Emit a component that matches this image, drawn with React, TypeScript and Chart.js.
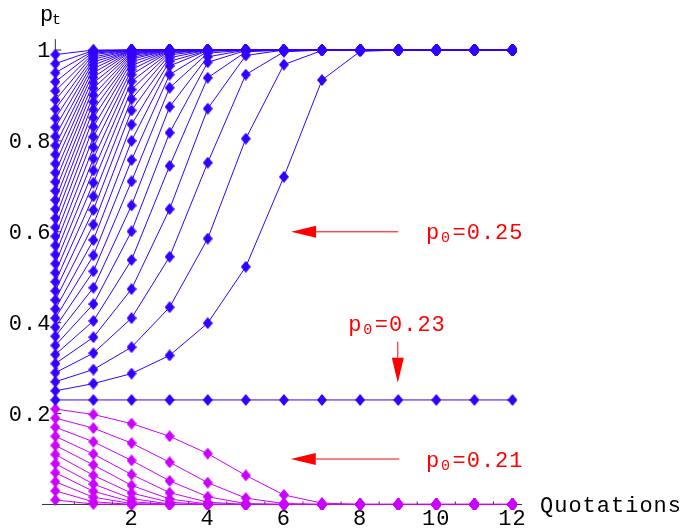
import React, { useEffect, useRef } from "react";
import { Chart, registerables } from "chart.js";

Chart.register(...registerables);

// Time steps (quotations)
const steps = [0, 1, 2, 3, 4, 5, 6, 7, 8, 9, 10, 11, 12];

// Paths starting above the threshold: they climb to 1
const risingPaths: number[][] = [
  [0.25, 0.266, 0.288, 0.328, 0.399, 0.523, 0.721, 0.934, 0.997, 1, 1, 1, 1],
  [0.27, 0.297, 0.346, 0.434, 0.585, 0.805, 0.968, 0.999, 1, 1, 1, 1, 1],
  [0.29, 0.333, 0.41, 0.545, 0.752, 0.946, 0.996, 1, 1, 1, 1, 1, 1],
  [0.31, 0.368, 0.474, 0.65, 0.871, 0.988, 1, 1, 1, 1, 1, 1, 1],
  [0.33, 0.404, 0.538, 0.745, 0.939, 0.996, 1, 1, 1, 1, 1, 1, 1],
  [0.35, 0.441, 0.601, 0.818, 0.973, 0.999, 1, 1, 1, 1, 1, 1, 1],
  [0.37, 0.477, 0.658, 0.875, 0.985, 1, 1, 1, 1, 1, 1, 1, 1],
  [0.39, 0.513, 0.711, 0.917, 0.993, 1, 1, 1, 1, 1, 1, 1, 1],
  [0.41, 0.548, 0.758, 0.946, 0.997, 1, 1, 1, 1, 1, 1, 1, 1],
  [0.43, 0.582, 0.8, 0.965, 0.999, 1, 1, 1, 1, 1, 1, 1, 1],
  [0.45, 0.616, 0.836, 0.975, 0.999, 1, 1, 1, 1, 1, 1, 1, 1],
  [0.47, 0.648, 0.867, 0.983, 1, 1, 1, 1, 1, 1, 1, 1, 1],
  [0.49, 0.678, 0.892, 0.989, 1, 1, 1, 1, 1, 1, 1, 1, 1],
  [0.51, 0.708, 0.913, 0.993, 1, 1, 1, 1, 1, 1, 1, 1, 1],
  [0.53, 0.735, 0.931, 0.995, 1, 1, 1, 1, 1, 1, 1, 1, 1],
  [0.55, 0.761, 0.946, 0.997, 1, 1, 1, 1, 1, 1, 1, 1, 1],
  [0.57, 0.786, 0.957, 0.998, 1, 1, 1, 1, 1, 1, 1, 1, 1],
  [0.59, 0.809, 0.966, 0.999, 1, 1, 1, 1, 1, 1, 1, 1, 1],
  [0.61, 0.831, 0.974, 0.999, 1, 1, 1, 1, 1, 1, 1, 1, 1],
  [0.63, 0.851, 0.98, 1, 1, 1, 1, 1, 1, 1, 1, 1, 1],
  [0.65, 0.869, 0.984, 1, 1, 1, 1, 1, 1, 1, 1, 1, 1],
  [0.67, 0.886, 0.988, 1, 1, 1, 1, 1, 1, 1, 1, 1, 1],
  [0.69, 0.901, 0.991, 1, 1, 1, 1, 1, 1, 1, 1, 1, 1],
  [0.71, 0.916, 0.993, 1, 1, 1, 1, 1, 1, 1, 1, 1, 1],
  [0.73, 0.928, 0.995, 1, 1, 1, 1, 1, 1, 1, 1, 1, 1],
  [0.75, 0.94, 0.997, 1, 1, 1, 1, 1, 1, 1, 1, 1, 1],
  [0.77, 0.95, 0.998, 1, 1, 1, 1, 1, 1, 1, 1, 1, 1],
  [0.79, 0.959, 0.999, 1, 1, 1, 1, 1, 1, 1, 1, 1, 1],
  [0.81, 0.967, 0.999, 1, 1, 1, 1, 1, 1, 1, 1, 1, 1],
  [0.83, 0.974, 0.999, 1, 1, 1, 1, 1, 1, 1, 1, 1, 1],
  [0.85, 0.98, 1, 1, 1, 1, 1, 1, 1, 1, 1, 1, 1],
  [0.87, 0.985, 1, 1, 1, 1, 1, 1, 1, 1, 1, 1, 1],
  [0.89, 0.99, 1, 1, 1, 1, 1, 1, 1, 1, 1, 1, 1],
  [0.91, 0.993, 1, 1, 1, 1, 1, 1, 1, 1, 1, 1, 1],
  [0.93, 0.996, 1, 1, 1, 1, 1, 1, 1, 1, 1, 1, 1],
  [0.95, 0.998, 1, 1, 1, 1, 1, 1, 1, 1, 1, 1, 1],
  [0.97, 0.999, 1, 1, 1, 1, 1, 1, 1, 1, 1, 1, 1],
  [0.99, 1, 1, 1, 1, 1, 1, 1, 1, 1, 1, 1, 1],
];

// The path that starts exactly on the threshold stays there
const thresholdPath = [0.23, 0.23, 0.23, 0.23, 0.23, 0.23, 0.23, 0.23, 0.23, 0.23, 0.23, 0.23, 0.23];

// Paths starting below the threshold: they decay to 0
const fallingPaths: number[][] = [
  [0.21, 0.198, 0.178, 0.15, 0.112, 0.064, 0.021, 0.003, 0, 0, 0, 0, 0],
  [0.19, 0.168, 0.135, 0.093, 0.048, 0.014, 0.002, 0, 0, 0, 0, 0, 0],
  [0.17, 0.138, 0.097, 0.052, 0.017, 0.002, 0, 0, 0, 0, 0, 0, 0],
  [0.15, 0.111, 0.066, 0.026, 0.005, 0, 0, 0, 0, 0, 0, 0, 0],
  [0.13, 0.087, 0.042, 0.012, 0.001, 0, 0, 0, 0, 0, 0, 0, 0],
  [0.11, 0.064, 0.025, 0.005, 0, 0, 0, 0, 0, 0, 0, 0, 0],
  [0.09, 0.045, 0.013, 0.001, 0, 0, 0, 0, 0, 0, 0, 0, 0],
  [0.07, 0.029, 0.006, 0, 0, 0, 0, 0, 0, 0, 0, 0, 0],
  [0.05, 0.016, 0.002, 0, 0, 0, 0, 0, 0, 0, 0, 0, 0],
  [0.03, 0.006, 0, 0, 0, 0, 0, 0, 0, 0, 0, 0, 0],
  [0.01, 0.001, 0, 0, 0, 0, 0, 0, 0, 0, 0, 0, 0],
];

// Axis ticks
const xTickValues = [2, 4, 6, 8, 10, 12];
const xTickLabels = ["2", "4", "6", "8", "10", "12"];
const yTickValues = [0.2, 0.4, 0.6, 0.8, 1];
const yTickLabels = ["0.2", "0.4", "0.6", "0.8", "1"];

// Red call-outs: arrows (tail -> tip) and p0 labels
const arrowTails = [
  [9.0, 0.6],
  [8.99, 0.358],
  [9.03, 0.1],
];
const arrowTips = [
  [6.19, 0.6],
  [8.99, 0.268],
  [6.18, 0.1],
];
const calloutTexts = ["=0.25", "=0.23", "=0.21"];
const calloutAnchors = [
  [9.73, 0.5833],
  [7.69, 0.3817],
  [9.73, 0.0818],
];

const BLUE = "#3300ff";
const MAGENTA = "#cc00ff";
const RED = "#ff0000";
const AXIS = "#333333";
const MONO = '"Liberation Mono", "Courier New", monospace';

function makeDiamond(color: string): HTMLCanvasElement {
  const c = document.createElement("canvas");
  c.width = 10;
  c.height = 12;
  const g = c.getContext("2d")!;
  g.fillStyle = color;
  g.beginPath();
  g.moveTo(5, 0);
  g.lineTo(10, 6);
  g.lineTo(5, 12);
  g.lineTo(0, 6);
  g.closePath();
  g.fill();
  return c;
}

function drawSubscripted(
  ctx: CanvasRenderingContext2D,
  x: number,
  baseline: number,
  sub: string,
  rest: string
) {
  ctx.font = `22px ${MONO}`;
  ctx.fillText("p", x, baseline);
  ctx.font = `15px ${MONO}`;
  ctx.fillText(sub, x + 15, baseline + 3);
  if (rest) {
    ctx.font = `22px ${MONO}`;
    ctx.fillText(rest, x + 26.5, baseline);
  }
}

const axesPlugin = {
  id: "mathAxes",
  beforeDatasetsDraw(chart: any) {
    const { ctx, scales } = chart;
    const xs = scales.x;
    const ys = scales.y;
    const x0 = xs.getPixelForValue(0);
    const y0 = ys.getPixelForValue(0);
    ctx.save();
    ctx.strokeStyle = AXIS;
    ctx.lineWidth = 1;
    ctx.beginPath();
    ctx.moveTo(xs.left, y0);
    ctx.lineTo(xs.right, y0);
    ctx.moveTo(x0, y0);
    ctx.lineTo(x0, ys.getPixelForValue(1.024));
    for (let i = 1; i <= 24; i++) {
      const v = i * 0.5;
      const px = xs.getPixelForValue(v);
      const len = i % 4 === 0 ? 6 : 3;
      ctx.moveTo(px, y0);
      ctx.lineTo(px, y0 - len);
    }
    for (let i = 1; i <= 20; i++) {
      const py = ys.getPixelForValue(i * 0.05);
      const len = i % 4 === 0 ? 6 : 3;
      ctx.moveTo(x0, py);
      ctx.lineTo(x0 + len, py);
    }
    ctx.stroke();

    ctx.fillStyle = "#000";
    ctx.font = `22px ${MONO}`;
    (ctx as any).letterSpacing = "1px";
    ctx.textBaseline = "alphabetic";
    ctx.textAlign = "center";
    xTickValues.forEach((v, i) => {
      ctx.fillText(xTickLabels[i], xs.getPixelForValue(v), y0 + 20.5);
    });
    ctx.textAlign = "right";
    yTickValues.forEach((v, i) => {
      ctx.fillText(yTickLabels[i], x0 - 4, ys.getPixelForValue(v) + 7);
    });
    ctx.textAlign = "left";
    ctx.fillText("Quotations", 540, y0 + 7.3);

    // vertical axis label p_t
    ctx.font = `22px ${MONO}`;
    ctx.fillText("p", 40, 20.5);
    ctx.font = `15px ${MONO}`;
    ctx.fillText("t", 52, 24);
    ctx.restore();
  },
};

const calloutPlugin = {
  id: "callouts",
  afterDatasetsDraw(chart: any) {
    const { ctx, scales } = chart;
    const xs = scales.x;
    const ys = scales.y;
    ctx.save();
    ctx.strokeStyle = RED;
    ctx.fillStyle = RED;
    ctx.lineWidth = 1;
    arrowTails.forEach((tail, i) => {
      const tip = arrowTips[i];
      const tx = xs.getPixelForValue(tail[0]);
      const ty = ys.getPixelForValue(tail[1]);
      const hx = xs.getPixelForValue(tip[0]);
      const hy = ys.getPixelForValue(tip[1]);
      const ang = Math.atan2(hy - ty, hx - tx);
      const headLen = 25;
      const halfW = 6;
      const bx = hx - Math.cos(ang) * headLen;
      const by = hy - Math.sin(ang) * headLen;
      ctx.beginPath();
      ctx.moveTo(tx, ty);
      ctx.lineTo(bx, by);
      ctx.stroke();
      ctx.beginPath();
      ctx.moveTo(hx, hy);
      ctx.lineTo(bx - Math.sin(ang) * halfW, by + Math.cos(ang) * halfW);
      ctx.lineTo(bx + Math.sin(ang) * halfW, by - Math.cos(ang) * halfW);
      ctx.closePath();
      ctx.fill();
    });
    (ctx as any).letterSpacing = "1px";
    ctx.textAlign = "left";
    ctx.textBaseline = "alphabetic";
    calloutTexts.forEach((t, i) => {
      const a = calloutAnchors[i];
      drawSubscripted(ctx, xs.getPixelForValue(a[0]), ys.getPixelForValue(a[1]), "0", t);
    });
    ctx.restore();
  },
};

export default function App() {
  const canvasRef = useRef<HTMLCanvasElement>(null);

  useEffect(() => {
    const canvas = canvasRef.current;
    if (!canvas) return;
    const blueMark = makeDiamond(BLUE);
    const magentaMark = makeDiamond(MAGENTA);

    const series = (values: number[], color: string, mark: HTMLCanvasElement) => ({
      data: steps.map((s, i) => ({ x: s, y: values[i] })),
      borderColor: color,
      backgroundColor: color,
      borderWidth: 1,
      pointStyle: mark,
      pointRadius: 5,
      pointHoverRadius: 5,
      pointBorderWidth: 0,
      showLine: true,
      tension: 0,
      fill: false,
      clip: false as const,
    });

    const datasets = [
      ...risingPaths.map((p) => series(p, BLUE, blueMark)),
      series(thresholdPath, BLUE, blueMark),
      ...fallingPaths.map((p) => series(p, MAGENTA, magentaMark)),
    ];

    const chart = new Chart(canvas, {
      type: "line",
      data: { datasets: datasets as any },
      options: {
        responsive: false,
        animation: false,
        events: [],
        layout: { padding: { left: 42, right: 160, top: 36.4, bottom: 9.9 } },
        scales: {
          x: { type: "linear", min: -0.35, max: 12.25, display: false },
          y: { type: "linear", min: -0.03, max: 1.03, display: false },
        },
        plugins: {
          legend: { display: false },
          tooltip: { enabled: false },
        },
      },
      plugins: [axesPlugin, calloutPlugin],
    });
    return () => chart.destroy();
  }, []);

  return (
    <div
      style={{
        position: "fixed",
        left: 0,
        top: 0,
        width: 682,
        height: 528,
        background: "#ffffff",
      }}
    >
      <canvas ref={canvasRef} width={682} height={528} style={{ display: "block" }} />
    </div>
  );
}
